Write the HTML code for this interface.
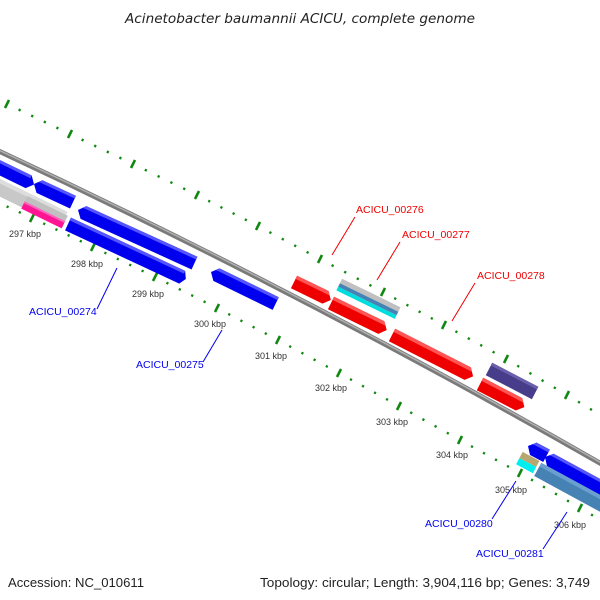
<!DOCTYPE html>
<html><head><meta charset="utf-8"><style>
html,body{margin:0;padding:0;background:#fff;}
svg{display:block;font-family:"Liberation Sans",sans-serif;}
</style></head><body>
<svg width="600" height="600" viewBox="0 0 600 600" xmlns="http://www.w3.org/2000/svg">
<text x="125" y="23" font-size="13" font-style="italic" fill="#222" textLength="350" lengthAdjust="spacingAndGlyphs" font-family="DejaVu Sans, sans-serif">Acinetobacter baumannii ACICU, complete genome</text>

<!-- outer tick row -->
<g stroke="#118811" stroke-width="2.4" fill="none">
<line x1="-54" y1="72" x2="7" y2="104" pathLength="5" stroke-dasharray="0.16 0.84" stroke-dashoffset="-0.92"/>
<line x1="7" y1="104" x2="70" y2="134" pathLength="5" stroke-dasharray="0.16 0.84" stroke-dashoffset="-0.92"/>
<line x1="70" y1="134" x2="133" y2="164" pathLength="5" stroke-dasharray="0.16 0.84" stroke-dashoffset="-0.92"/>
<line x1="133" y1="164" x2="197" y2="195" pathLength="5" stroke-dasharray="0.16 0.84" stroke-dashoffset="-0.92"/>
<line x1="197" y1="195" x2="258" y2="226" pathLength="5" stroke-dasharray="0.16 0.84" stroke-dashoffset="-0.92"/>
<line x1="258" y1="226" x2="320" y2="259" pathLength="5" stroke-dasharray="0.16 0.84" stroke-dashoffset="-0.92"/>
<line x1="320" y1="259" x2="383" y2="292" pathLength="5" stroke-dasharray="0.16 0.84" stroke-dashoffset="-0.92"/>
<line x1="383" y1="292" x2="444" y2="325" pathLength="5" stroke-dasharray="0.16 0.84" stroke-dashoffset="-0.92"/>
<line x1="444" y1="325" x2="506" y2="359" pathLength="5" stroke-dasharray="0.16 0.84" stroke-dashoffset="-0.92"/>
<line x1="506" y1="359" x2="567" y2="395" pathLength="5" stroke-dasharray="0.16 0.84" stroke-dashoffset="-0.92"/>
<line x1="567" y1="395" x2="627" y2="431" pathLength="5" stroke-dasharray="0.16 0.84" stroke-dashoffset="-0.92"/>
</g>
<g stroke="#118811" stroke-width="2.6">
<line x1="9" y1="100" x2="5" y2="108"/><line x1="72" y1="130" x2="68" y2="138"/>
<line x1="135" y1="160" x2="131" y2="168"/><line x1="199" y1="191" x2="195" y2="199"/>
<line x1="260" y1="222" x2="256" y2="230"/><line x1="322" y1="255" x2="318" y2="263"/>
<line x1="385" y1="288" x2="381" y2="296"/><line x1="446" y1="321" x2="442" y2="329"/>
<line x1="508" y1="355" x2="504" y2="363"/><line x1="569" y1="391" x2="565" y2="399"/>
</g>

<!-- inner tick row -->
<g stroke="#118811" stroke-width="2.4" fill="none">
<line x1="-29" y1="190" x2="32" y2="218" pathLength="5" stroke-dasharray="0.16 0.84" stroke-dashoffset="-0.92"/>
<line x1="32" y1="218" x2="93" y2="247" pathLength="5" stroke-dasharray="0.16 0.84" stroke-dashoffset="-0.92"/>
<line x1="93" y1="247" x2="155" y2="277" pathLength="5" stroke-dasharray="0.16 0.84" stroke-dashoffset="-0.92"/>
<line x1="155" y1="277" x2="217" y2="308" pathLength="5" stroke-dasharray="0.16 0.84" stroke-dashoffset="-0.92"/>
<line x1="217" y1="308" x2="278" y2="340" pathLength="5" stroke-dasharray="0.16 0.84" stroke-dashoffset="-0.92"/>
<line x1="278" y1="340" x2="339" y2="373" pathLength="5" stroke-dasharray="0.16 0.84" stroke-dashoffset="-0.92"/>
<line x1="339" y1="373" x2="399" y2="406" pathLength="5" stroke-dasharray="0.16 0.84" stroke-dashoffset="-0.92"/>
<line x1="399" y1="406" x2="460" y2="440" pathLength="5" stroke-dasharray="0.16 0.84" stroke-dashoffset="-0.92"/>
<line x1="460" y1="440" x2="520" y2="473" pathLength="5" stroke-dasharray="0.16 0.84" stroke-dashoffset="-0.92"/>
<line x1="520" y1="473" x2="580" y2="508" pathLength="5" stroke-dasharray="0.16 0.84" stroke-dashoffset="-0.92"/>
<line x1="580" y1="508" x2="640" y2="543" pathLength="5" stroke-dasharray="0.16 0.84" stroke-dashoffset="-0.92"/>
</g>
<g stroke="#118811" stroke-width="2.6">
<line x1="34" y1="214" x2="30" y2="222"/><line x1="95" y1="243" x2="91" y2="251"/>
<line x1="157" y1="273" x2="153" y2="281"/><line x1="219" y1="304" x2="215" y2="312"/>
<line x1="280" y1="336" x2="276" y2="344"/><line x1="341" y1="369" x2="337" y2="377"/>
<line x1="401" y1="402" x2="397" y2="410"/><line x1="462" y1="436" x2="458" y2="444"/>
<line x1="522" y1="469" x2="518" y2="477"/><line x1="582" y1="504" x2="578" y2="512"/>
</g>
<g font-size="9" fill="#333" text-anchor="middle">
<text x="25" y="237">297 kbp</text><text x="87" y="267">298 kbp</text>
<text x="148" y="297">299 kbp</text><text x="210" y="327">300 kbp</text>
<text x="271" y="359">301 kbp</text><text x="331" y="391">302 kbp</text>
<text x="392" y="425">303 kbp</text><text x="452" y="458">304 kbp</text>
<text x="511" y="493">305 kbp</text><text x="570" y="528">306 kbp</text>
</g>

<!-- backbone -->
<path d="M-10,147 Q300,291 612,470" stroke="#7a7a7a" stroke-width="5" fill="none"/>
<path d="M-10,146 Q300,290 612,469" stroke="#b0b0b0" stroke-width="1.5" fill="none"/>

<!-- genes -->
<g transform="translate(-10,163) rotate(26)"><polygon points="0,-7 43,-7 49,0 43,7 0,7" fill="#0000ee"/><rect x="0" y="-7" width="43" height="3" fill="#5555ff"/></g>
<g transform="translate(34,184) rotate(25)"><polygon points="0,0 6,-7 43,-7 43,7 6,7" fill="#0000ee"/><polygon points="3,-3.5 6,-7 43,-7 43,-4 5,-4" fill="#5555ff"/></g>
<g transform="translate(78,210) rotate(24.5)"><polygon points="0,0 6,-7 128,-7 128,7 6,7" fill="#0000ee"/><polygon points="3,-3.5 6,-7 128,-7 128,-4 5,-4" fill="#5555ff"/></g>
<g transform="translate(-8,184) rotate(26)"><rect x="0" y="-8" width="80" height="16" fill="#c8c8c8"/><rect x="0" y="-8" width="80" height="4" fill="#dddddd"/></g>
<g transform="translate(23,205) rotate(26)"><rect x="0" y="-4" width="45" height="8" fill="#ff1493"/><rect x="0" y="-4" width="45" height="2" fill="#ff66bb"/><rect x="0" y="-10" width="45" height="6" fill="#c0c0c0"/></g>
<g transform="translate(68,224) rotate(25)"><polygon points="0,-7 126,-7 130,0 126,7 0,7" fill="#0000ee"/><rect x="0" y="-7" width="126" height="3" fill="#5555ff"/></g>
<g transform="translate(211,272) rotate(26)"><polygon points="0,0 6,-7 72,-7 72,7 6,7" fill="#0000ee"/><polygon points="3,-3.5 6,-7 72,-7 72,-4 5,-4" fill="#5555ff"/></g>

<g transform="translate(294,282) rotate(26)"><polygon points="0,-7 35,-7 41,0 35,7 0,7" fill="#ee0000"/><polygon points="0,-7 35,-7 38,-3.5 0,-3.5" fill="#ff5555"/></g>
<g transform="translate(331,303) rotate(26)"><polygon points="0,-7 56,-7 62,0 56,7 0,7" fill="#ee0000"/><polygon points="0,-7 56,-7 59,-3.5 0,-3.5" fill="#ff5555"/></g>
<g transform="translate(339,285) rotate(26)"><rect x="0" y="-7" width="65" height="5" fill="#c0c0c0"/><rect x="0" y="-2" width="65" height="4" fill="#4682b4"/><rect x="0" y="2" width="65" height="4" fill="#00dddd"/></g>
<g transform="translate(392,335) rotate(27)"><polygon points="0,-7 85,-7 91,0 85,7 0,7" fill="#ee0000"/><polygon points="0,-7 85,-7 88,-3.5 0,-3.5" fill="#ff5555"/></g>
<g transform="translate(489,369) rotate(27.5)"><rect x="0" y="-7" width="52" height="14" fill="#483d8b"/><rect x="0" y="-7" width="52" height="3" fill="#6a5fab"/></g>
<g transform="translate(480,384) rotate(27.5)"><polygon points="0,-7 44,-7 50,0 44,7 0,7" fill="#ee0000"/><polygon points="0,-7 44,-7 47,-3.5 0,-3.5" fill="#ff5555"/></g>

<g transform="translate(528,446) rotate(28)"><polygon points="0,0 6,-7 21,-7 21,7 6,7" fill="#0000ee"/><polygon points="3,-3.5 6,-7 21,-7 21,-4 5,-4" fill="#5555ff"/></g>
<g transform="translate(545,457) rotate(28.5)"><polygon points="0,0 6,-7 80,-7 80,7 6,7" fill="#0000ee"/><polygon points="3,-3.5 6,-7 80,-7 80,-4 5,-4" fill="#5555ff"/></g>
<g transform="translate(521,455) rotate(28)"><rect x="0" y="-3.5" width="19" height="7" fill="#b8a870"/><rect x="0" y="3.5" width="19" height="7" fill="#00eeee"/></g>
<g transform="translate(538,469) rotate(28.5)"><rect x="0" y="-7" width="85" height="15" fill="#4682b4"/><rect x="0" y="-7" width="85" height="4" fill="#6a9fd0"/></g>

<!-- labels -->
<g font-size="10.5">
<text x="356" y="213" fill="#ee0000">ACICU_00276</text>
<text x="402" y="238" fill="#ee0000">ACICU_00277</text>
<text x="477" y="279" fill="#ee0000">ACICU_00278</text>
<text x="29" y="315" fill="#0000ee">ACICU_00274</text>
<text x="136" y="368" fill="#0000ee">ACICU_00275</text>
<text x="425" y="527" fill="#0000ee">ACICU_00280</text>
<text x="476" y="557" fill="#0000ee">ACICU_00281</text>
</g>
<g stroke-width="1">
<line x1="355" y1="217" x2="332" y2="255" stroke="#ee0000"/>
<line x1="400" y1="242" x2="377" y2="280" stroke="#ee0000"/>
<line x1="475" y1="283" x2="452" y2="321" stroke="#ee0000"/>
<line x1="97" y1="309" x2="117" y2="268" stroke="#0000ee"/>
<line x1="203" y1="362" x2="222" y2="330" stroke="#0000ee"/>
<line x1="492" y1="519" x2="516" y2="481" stroke="#0000ee"/>
<line x1="543" y1="549" x2="567" y2="512" stroke="#0000ee"/>
</g>

<text x="8" y="587" font-size="13" fill="#222" textLength="136" lengthAdjust="spacingAndGlyphs">Accession: NC_010611</text>
<text x="260" y="587" font-size="13" fill="#222" textLength="330" lengthAdjust="spacingAndGlyphs">Topology: circular; Length: 3,904,116 bp; Genes: 3,749</text>
</svg>
</body></html>
